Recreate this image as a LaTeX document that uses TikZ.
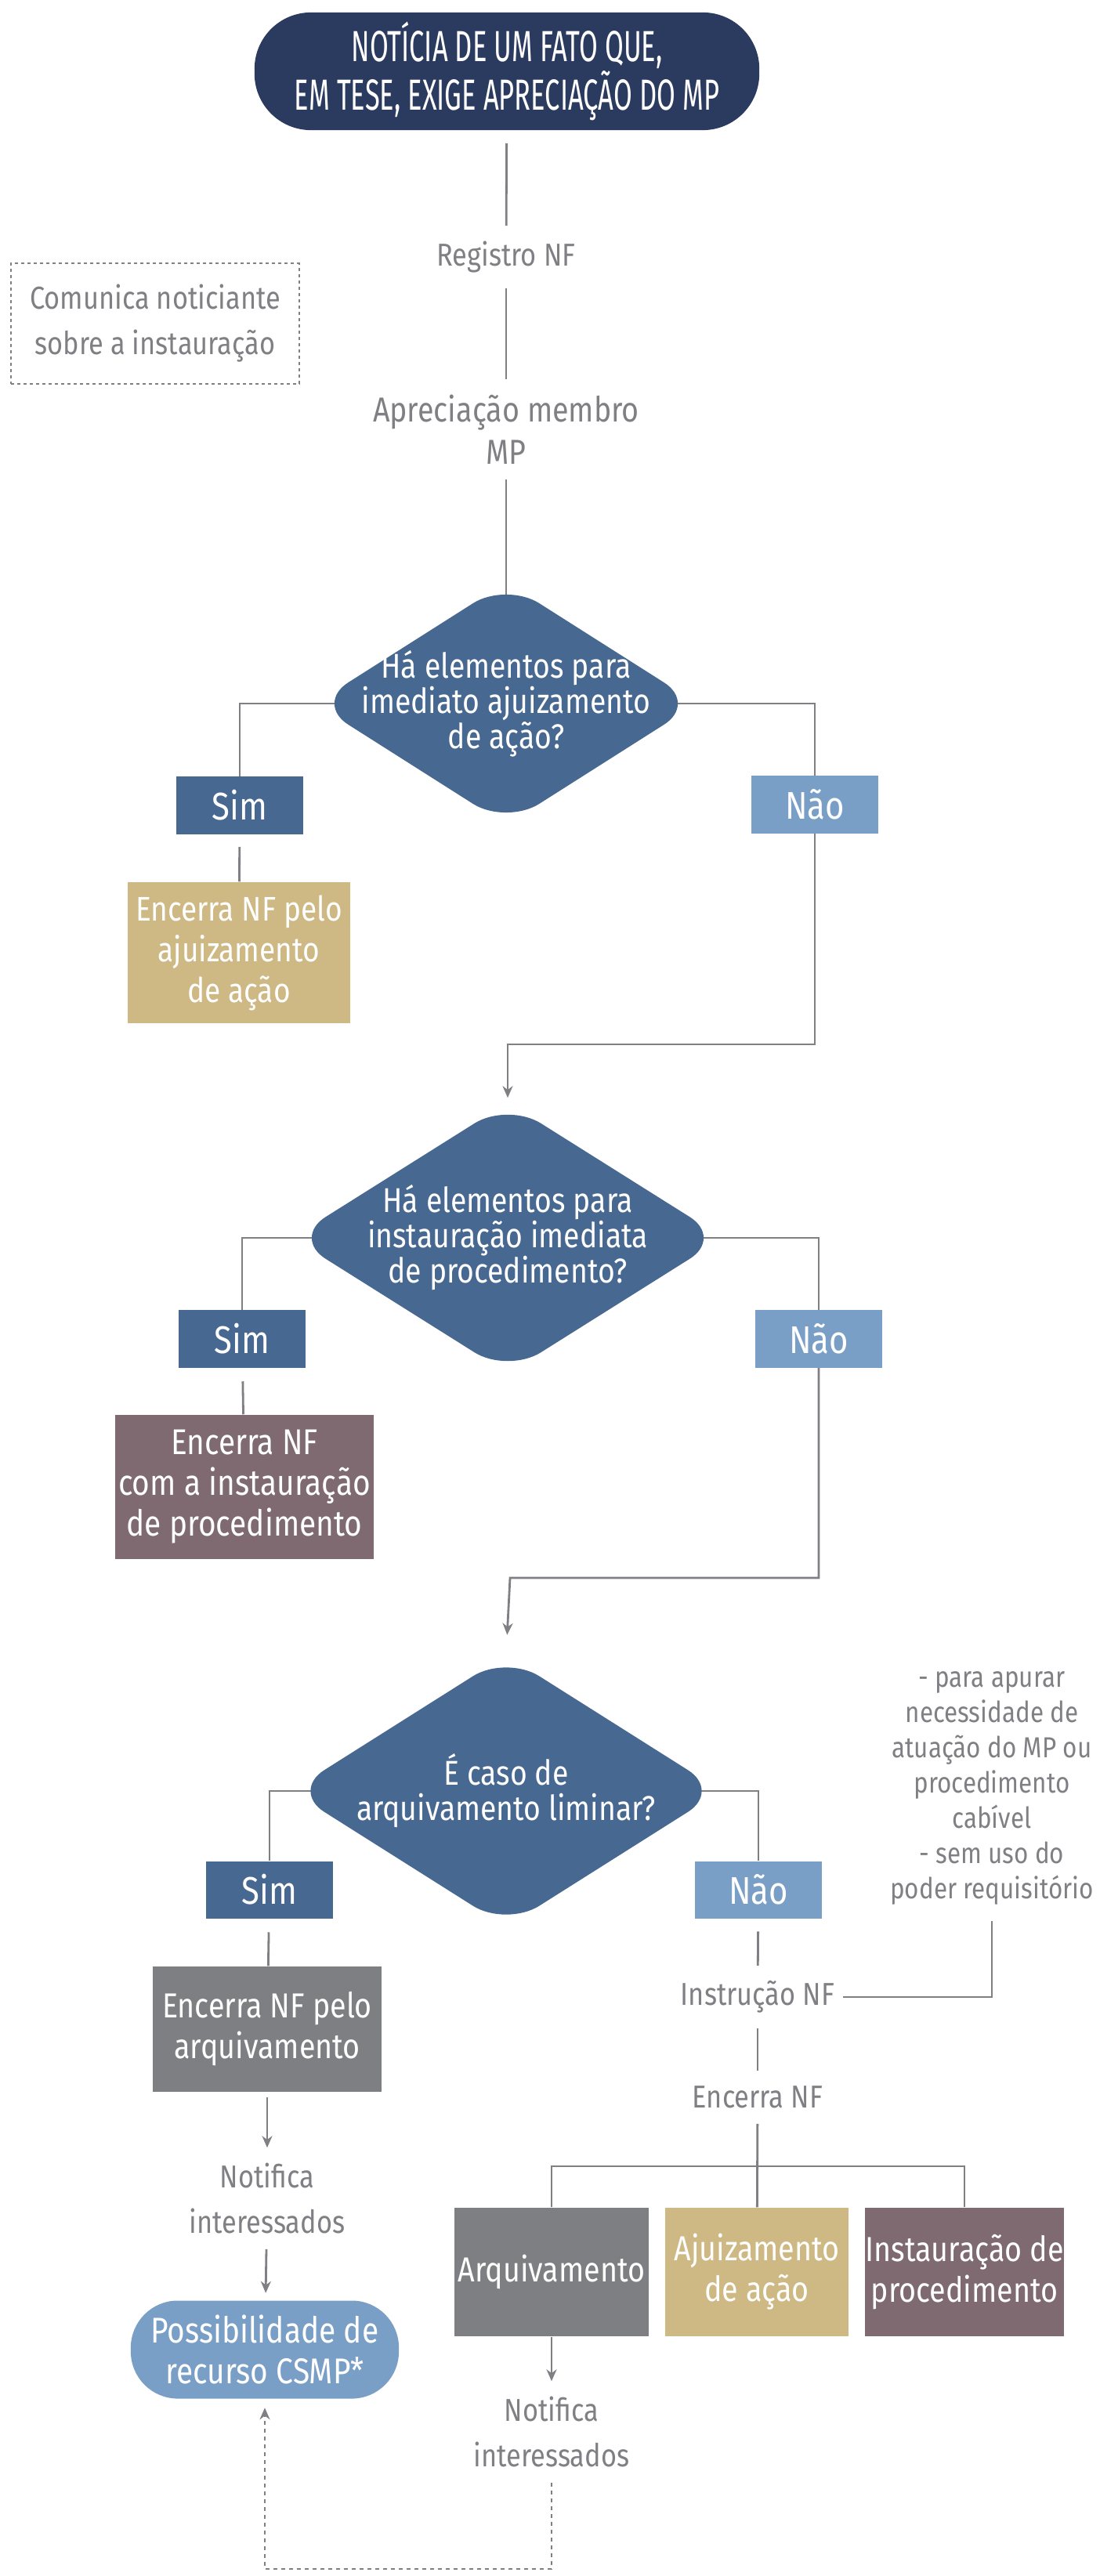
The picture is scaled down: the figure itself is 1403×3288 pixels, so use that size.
\documentclass[tikz,border=0pt]{standalone}
\usepackage{fontspec}
\setmainfont{Fira Sans}[FakeStretch=0.85]
\newfontfamily\capsfont{Fira Sans}[FakeStretch=0.62]
\usetikzlibrary{shapes.geometric,arrows.meta,backgrounds}
\definecolor{navy}{HTML}{2B3B5F}
\definecolor{dblue}{HTML}{476891}
\definecolor{lblue}{HTML}{7A9FC7}
\definecolor{tan}{HTML}{CEB883}
\definecolor{mauve}{HTML}{7E6A70}
\definecolor{boxgray}{HTML}{7E7F83}
\definecolor{tgray}{HTML}{808084}
\tikzset{
  term/.style={fill=navy, text=white, rounded corners=0.72cm, minimum width=6.44cm,
    minimum height=1.49cm, font=\capsfont\fontsize{15.8}{14.6}\selectfont},
  note/.style={text=tgray, inner xsep=0.1cm, inner ysep=0.19cm,
    font=\fontsize{11.5}{16.5}\selectfont},
  dotbox/.style={draw=tgray, dash pattern=on 0.04cm off 0.04cm, line width=0.02cm,
    minimum width=3.68cm, minimum height=1.53cm, text=tgray,
    font=\fontsize{11.5}{16.5}\selectfont},
  dec/.style={diamond, fill=dblue, rounded corners=0.5cm, inner sep=0pt},
  dtext/.style={text=white, align=center, font=\fontsize{12.5}{12.8}\selectfont},
  ans/.style={minimum width=1.62cm, minimum height=0.73cm, inner sep=0pt, text=white,
    font=\fontsize{14}{16}\selectfont},
  yes/.style={ans, fill=dblue},
  no/.style={ans, fill=lblue},
  box/.style={inner sep=0pt, text=white, font=\fontsize{12.6}{14.8}\selectfont},
  link/.style={draw=tgray, line width=0.028cm},
  arrow/.style={link, -{Stealth[length=0.15cm,width=0.13cm]}},
  dots/.style={arrow, dash pattern=on 0.05cm off 0.05cm}
}
\begin{document}
\begin{tikzpicture}[x=0.01cm,y=-0.01cm,every node/.style={align=center}]
  \useasboundingbox (0,0) rectangle (1403,3288);
  % inicio
  \node[term] (top) at (647,91) {NOTÍCIA DE UM FATO QUE,\\EM TESE, EXIGE APRECIAÇÃO DO MP};
  \node[note] (reg) at (646,328) {Registro NF};
  \node[dotbox] (com) at (198,413) {Comunica noticiante\\sobre a instauração};
  \node[note, font=\fontsize{12.6}{15.4}\selectfont] (apr) at (646,548) {Apreciação membro\\MP};
  % primeira decisao
  \node[dec, minimum width=4.88cm, minimum height=3.1cm,
    label={[dtext]center:{Há elementos para\\imediato ajuizamento\\de ação?}}] (d1) at (646,898) {};
  \node[yes] (s1) at (306,1028) {Sim};
  \node[no] (n1) at (1040,1027) {Não};
  \node[box, fill=tan, minimum width=2.84cm, minimum height=1.8cm,
    font=\fontsize{12.4}{14.8}\selectfont] (e1) at (305,1216)
    {Encerra NF pelo\\ajuizamento\\de ação};
  % segunda decisao
  \node[dec, minimum width=5.5cm, minimum height=3.46cm,
    label={[dtext]center:{Há elementos para\\instauração imediata\\de procedimento?}}] (d2) at (648,1580) {};
  \node[yes] (s2) at (309,1709) {Sim};
  \node[no] (n2) at (1045,1709) {Não};
  \node[box, fill=mauve, minimum width=3.3cm, minimum height=1.84cm,
    font=\fontsize{13}{14.8}\selectfont] (e2) at (312,1898)
    {Encerra NF\\com a instauração\\de procedimento};
  % terceira decisao
  \node[dec, minimum width=5.49cm, minimum height=3.47cm,
    label={[dtext]center:{É caso de\\arquivamento liminar?}}] (d3) at (646,2286) {};
  \node[yes] (s3) at (344,2412) {Sim};
  \node[no] (n3) at (968,2412) {Não};
  \node[box, fill=boxgray, minimum width=2.91cm, minimum height=1.6cm] (e3) at (341,2590)
    {Encerra NF pelo\\arquivamento};
  \node[note] (not1) at (341,2806) {Notifica\\interessados};
  \node[box, fill=lblue, rounded corners=0.6cm, minimum width=3.42cm, minimum height=1.25cm,
    font=\fontsize{13}{14.8}\selectfont] (poss) at (338,2999) {Possibilidade de\\recurso CSMP*};
  \node[note] (inst) at (967,2549) {Instrução NF};
  \node[note, inner ysep=0.2cm, font=\fontsize{10.5}{12.8}\selectfont] (side) at (1266,2282)
    {- para apurar\\necessidade de\\atuação do MP ou\\procedimento\\cabível\\- sem uso do\\poder requisitório};
  \node[note] (enc) at (967,2677) {Encerra NF};
  \node[box, fill=boxgray, minimum width=2.47cm, minimum height=1.64cm] (ar) at (704,2900) {Arquivamento};
  \node[box, fill=tan, minimum width=2.34cm, minimum height=1.64cm] (aj) at (966,2900) {Ajuizamento\\de ação};
  \node[box, fill=mauve, minimum width=2.54cm, minimum height=1.64cm] (ins) at (1231,2900)
    {Instauração de\\procedimento};
  \node[note] (not2) at (704,3104) {Notifica\\interessados};
  \coordinate (j1) at (648,1333);
  \coordinate (j2) at (651,2014);
  \coordinate (bar) at (966,2765);
  \coordinate (c1) at (704,3279);
  % ligacoes
  \begin{scope}[on background layer]
    \draw[link, shorten <=0.16cm] (top) -- (reg);
    \draw[link] (reg) -- (apr);
    \draw[link] (apr) -- (d1.center);
    \draw[link] (d1.center) -| (s1.north);
    \draw[link] (d1.center) -| (n1.north);
    \draw[link, shorten <=0.16cm] (s1) -- (e1);
    \draw[arrow, shorten >=0.05cm] (n1.south) |- (j1) -- (d2.north);
    \draw[link] (d2.center) -| (s2.north);
    \draw[link] (d2.center) -| (n2.north);
    \draw[link, shorten <=0.17cm] (s2) -- (e2);
    \draw[arrow, shorten >=0.25cm] (n2.south) |- (j2) -- (d3.north);
    \draw[link] (d3.center) -| (s3.north);
    \draw[link] (d3.center) -| (n3.north);
    \draw[link, shorten <=0.17cm] (s3) -- (e3);
    \draw[arrow, shorten <=0.06cm] (e3) -- (not1);
    \draw[arrow, shorten >=0.09cm] (not1) -- (poss);
    \draw[link, shorten <=0.16cm] (n3) -- (inst);
    \draw[link] (side.south) |- (inst.east);
    \draw[link] (inst) -- (enc);
    \draw[link] (enc) -- (aj);
    \draw[link] (ar.north) |- (bar) -| (ins.north);
    \draw[arrow] (ar) -- (not2);
    \draw[dots, shorten >=0.11cm] (not2.south) |- (c1) -| (poss.south);
  \end{scope}
\end{tikzpicture}
\end{document}
